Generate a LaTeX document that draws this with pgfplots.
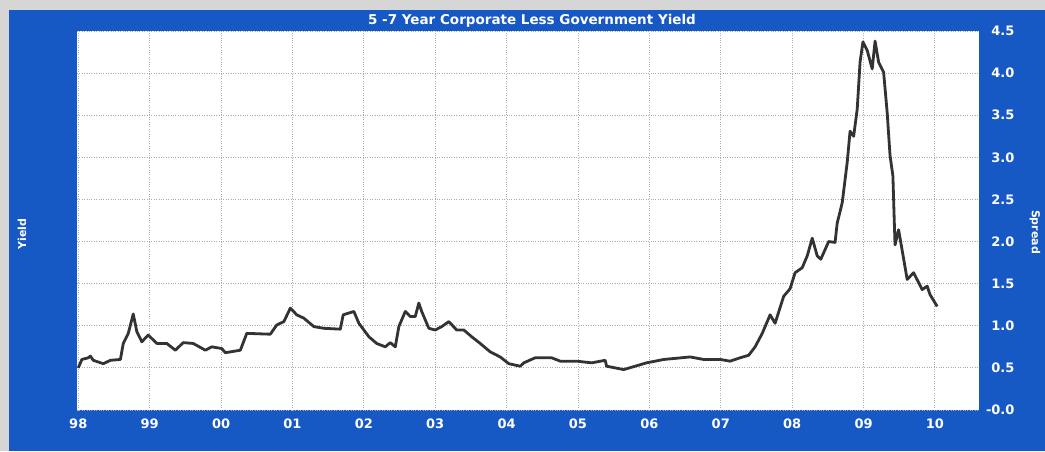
\documentclass[border=0pt]{standalone}
\usepackage{fontspec}
\setmainfont{DejaVu Sans}
\usepackage{pgfplots}
\pgfplotsset{compat=1.18}
\definecolor{bgblue}{RGB}{22,88,196}
\definecolor{bggray}{RGB}{214,214,214}
\definecolor{linegray}{RGB}{51,51,51}
\begin{document}
\begin{tikzpicture}
\useasboundingbox (0pt,0pt) rectangle (1045pt,451pt);
\fill[bggray] (0pt,0pt) rectangle (1045pt,451pt);
\fill[bgblue] (9pt,0pt) rectangle (1045pt,441pt);
\node[white,font=\bfseries\fontsize{13.5}{15}\selectfont] at (532pt,430pt) {5 -7 Year Corporate Less Government Yield};
\node[white,rotate=90,font=\bfseries\fontsize{11}{13}\selectfont] at (22pt,217pt) {Yield};
\node[white,rotate=-90,font=\bfseries\fontsize{11}{13}\selectfont] at (1035pt,219pt) {Spread};
\begin{axis}[
  at={(77pt,41pt)}, anchor=south west,
  scale only axis, width=902pt, height=379pt,
  xmin=1997.982, xmax=2010.616,
  ymin=0, ymax=4.5,
  axis background/.style={fill=white},
  axis line style={draw=none},
  major tick length=0pt,
  xtick={1998,1999,...,2010},
  xticklabels={98,99,00,01,02,03,04,05,06,07,08,09,10},
  ytick={0,0.5,1,1.5,2,2.5,3,3.5,4,4.5},
  yticklabels={-0.0,0.5,1.0,1.5,2.0,2.5,3.0,3.5,4.0,4.5},
  yticklabel pos=right,
  xticklabel style={white,font=\bfseries\fontsize{13}{15}\selectfont,anchor=base,yshift=-18pt},
  yticklabel style={white,font=\bfseries\fontsize{13}{15}\selectfont,anchor=east,xshift=39pt},
  xmajorgrids, ymajorgrids,
  grid style={dotted, gray!65, line width=0.9pt},
  clip=true,
]
\addplot[linegray, line width=2.8pt, line join=round] coordinates {
(1998.00,0.50)(1998.05,0.60)(1998.14,0.62)(1998.17,0.64)(1998.21,0.59)(1998.35,0.55)
(1998.45,0.59)(1998.59,0.60)(1998.63,0.79)(1998.70,0.91)(1998.77,1.14)(1998.82,0.93)
(1998.89,0.81)(1998.98,0.89)(1999.10,0.79)(1999.24,0.79)(1999.36,0.71)(1999.47,0.80)
(1999.61,0.79)(1999.78,0.71)(1999.87,0.75)(2000.01,0.73)(2000.06,0.68)(2000.27,0.71)
(2000.36,0.91)(2000.69,0.90)(2000.78,1.01)(2000.88,1.05)(2000.97,1.21)(2001.06,1.13)
(2001.16,1.09)(2001.30,0.99)(2001.44,0.97)(2001.67,0.96)(2001.71,1.13)(2001.86,1.17)
(2001.93,1.03)(2002.07,0.87)(2002.18,0.79)(2002.30,0.75)(2002.37,0.80)(2002.44,0.75)
(2002.49,0.99)(2002.58,1.17)(2002.65,1.11)(2002.72,1.11)(2002.77,1.27)(2002.81,1.17)
(2002.91,0.97)(2003.00,0.95)(2003.09,0.99)(2003.19,1.05)(2003.30,0.95)(2003.40,0.95)
(2003.51,0.87)(2003.63,0.79)(2003.77,0.69)(2003.91,0.63)(2004.03,0.55)(2004.19,0.52)
(2004.24,0.56)(2004.40,0.62)(2004.63,0.62)(2004.75,0.58)(2004.98,0.58)(2005.19,0.56)
(2005.38,0.59)(2005.40,0.52)(2005.64,0.48)(2005.80,0.52)(2005.96,0.56)(2006.20,0.60)
(2006.57,0.63)(2006.76,0.60)(2006.99,0.60)(2007.13,0.58)(2007.27,0.62)(2007.39,0.65)
(2007.48,0.75)(2007.58,0.91)(2007.69,1.13)(2007.76,1.03)(2007.88,1.35)(2007.97,1.44)
(2008.04,1.63)(2008.14,1.69)(2008.21,1.83)(2008.28,2.04)(2008.35,1.83)(2008.40,1.79)
(2008.51,2.00)(2008.60,1.99)(2008.63,2.22)(2008.70,2.46)(2008.77,2.94)(2008.81,3.31)
(2008.86,3.25)(2008.91,3.57)(2008.95,4.13)(2008.99,4.37)(2009.05,4.27)(2009.12,4.05)
(2009.16,4.38)(2009.21,4.13)(2009.28,4.01)(2009.33,3.53)(2009.37,3.02)(2009.41,2.78)
(2009.43,2.22)(2009.44,1.96)(2009.49,2.14)(2009.61,1.55)(2009.70,1.63)(2009.82,1.43)
(2009.89,1.47)(2009.93,1.37)(2010.03,1.23)
};
\end{axis}
\end{tikzpicture}
\end{document}
